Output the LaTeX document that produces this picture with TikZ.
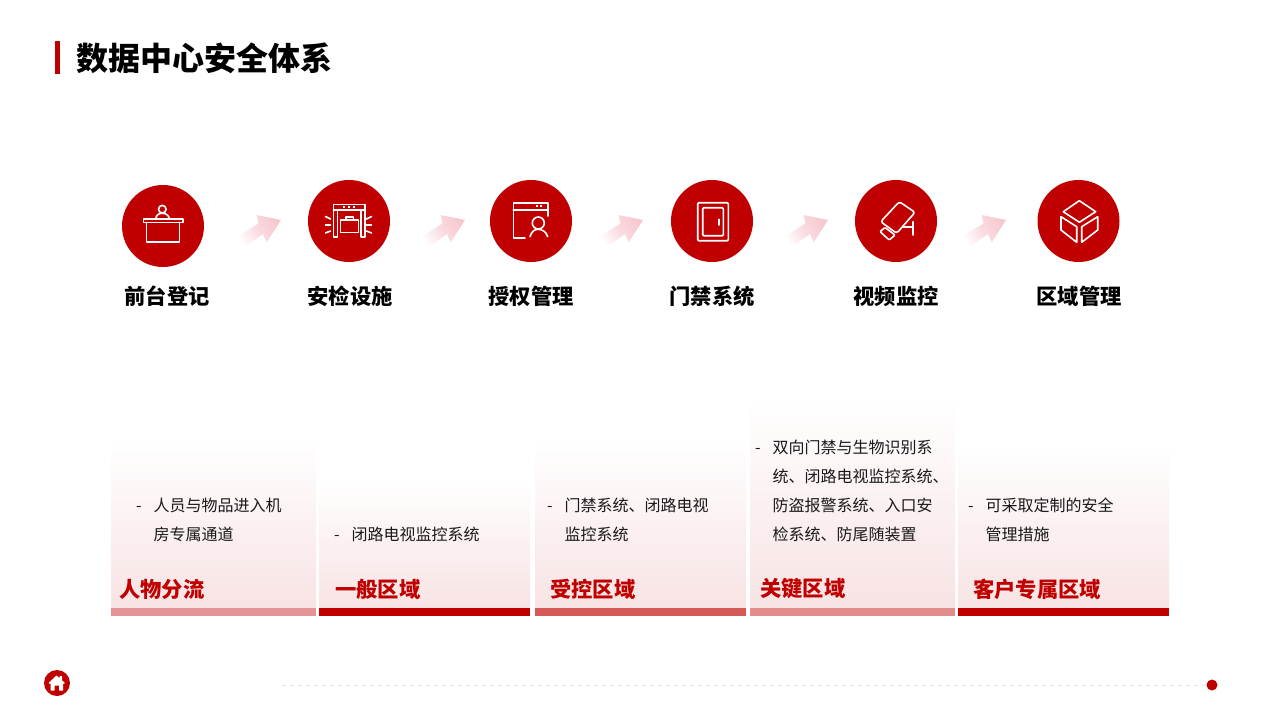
\documentclass[tikz,border=0pt]{standalone}
\usepackage{fontspec}
\setmainfont{Noto Sans CJK SC}
\definecolor{brand}{HTML}{C00000}
\definecolor{cardend}{HTML}{F8E3E4}
\definecolor{arrowend}{HTML}{F7C8D0}
\tikzset{
  icondisc/.style={circle,fill=brand,draw=none,minimum size=82pt,inner sep=0pt},
  caption/.style={font=\fontsize{21.3}{24}\selectfont\bfseries,text=black,inner sep=0pt},
  cardtitle/.style={font=\fontsize{21.3}{24}\selectfont\bfseries,text=brand,inner sep=0pt,anchor=west},
  cardbody/.style={font=\fontsize{16}{29}\selectfont,text=black!90,inner sep=0pt,anchor=north west,align=left},
  ln/.style={draw=white,line width=1.6pt,line join=round,line cap=round},
  cardfill/.style={top color=white,bottom color=cardend,middle color=white!50!cardend,draw=none},
  goarrow/.style={bottom color=white,top color=arrowend,middle color=white!35!arrowend,shading angle=-60,draw=none}
}
\newcommand{\bul}{\makebox[17.5pt][l]{-}}
\newcommand{\ind}{\hspace*{17.5pt}}
\begin{document}
\begin{tikzpicture}[x=1pt,y=-1pt]
\useasboundingbox (0,0) rectangle (1280,720);
\fill[white] (0,0) rectangle (1280,720);
% title
\fill[brand] (55,41) rectangle (60,74);
\node[anchor=west,inner sep=0pt,font=\fontsize{32}{36}\selectfont\bfseries,text=black] (title) at (76.5,58) {数据中心安全体系};
% discs
\node[icondisc] (d1) at (163,226) {};
\node[icondisc] (d2) at (349,221) {};
\node[icondisc] (d3) at (531,221) {};
\node[icondisc] (d4) at (712,221) {};
\node[icondisc] (d5) at (896,221) {};
\node[icondisc] (d6) at (1078.5,221) {};
% captions
\node[caption] (c1) at (167,296) {前台登记};
\node[caption] (c2) at (350,296) {安检设施};
\node[caption] (c3) at (531,296) {授权管理};
\node[caption] (c4) at (712,296) {门禁系统};
\node[caption] (c5) at (896,296) {视频监控};
\node[caption] (c6) at (1079,296) {区域管理};
% arrows
\foreach \dx in {0,184,362,547,725}{
  \shade[goarrow,shift={(\dx pt,0)}] (235,238) -- (258.5,223.5) -- (256.7,215) -- (281,220) -- (266.7,242.3) -- (263,234) -- (243,248) -- cycle;
}
% icon 1
\draw[ln] (143.3,219) rectangle (183,222.3);
\draw[ln] (146.3,222.3) -- (146.3,241.7) -- (179.3,241.7) -- (179.3,222.3);
\draw[ln] (155.7,219) .. controls (156,215.5) and (158.5,213.2) .. (162.3,213.2) .. controls (166,213.2) and (169,215.5) .. (169.5,219);
\draw[ln] (162.3,209.2) circle[radius=3.8];
% icon 2
\draw[ln] (333.5,237) -- (333.5,204.3) -- (364.7,204.3) -- (364.7,237) -- (360.7,237) -- (360.7,210) -- (337.5,210) -- (337.5,237) -- cycle;
\draw[ln] (333.5,210) -- (364.7,210);
\foreach \x in {344,349,354}{\fill[white] (\x-1.2,206.2) rectangle (\x+1.2,208.2);}
\draw[ln] (340.5,220) rectangle (358.5,232.3);
\draw[ln] (346,220) -- (346,217) -- (353.3,217) -- (353.3,220);
\draw[ln] (325.5,216.5) -- (330.5,219) (325.5,225) -- (330.5,225) (325.5,233) -- (330.5,231);
\draw[ln] (371.5,216.5) -- (366.5,219) (371.5,225) -- (366.5,225) (371.5,233) -- (366.5,231);
% icon 3
\draw[ln] (525,237.7) -- (513.3,237.7) -- (513.3,202.7) -- (547.7,202.7) -- (547.7,216);
\draw[ln] (513.3,210) -- (547.7,210);
\fill[white] (535.7,205) rectangle (537.9,207.2);
\fill[white] (539.7,205) rectangle (541.9,207.2);
\draw[ln] (538.3,223) circle[radius=6];
\draw[ln] (530,236.7) .. controls (531.5,231.5) and (534.5,229.3) .. (538.3,229.3) .. controls (542,229.3) and (546,231.5) .. (547.7,236.7);
% icon 4
\draw[ln,rounded corners=1pt] (697.7,202.7) rectangle (728.3,240.7);
\draw[ln,rounded corners=1pt] (702.7,207.7) rectangle (723.3,235.7);
\draw[ln] (719,219.3) -- (719,225);
% icon 5
\draw[ln,rounded corners=2.5pt] (899.3,201.7) -- (915,212.3) -- (896.7,233.3) -- (880.7,221.7) -- cycle;
\draw[ln,rounded corners=1pt] (880,231.7) -- (885,227.5) -- (895,235) -- (889.3,240) -- cycle;
\draw[ln] (902.7,226.7) -- (912.7,226.7) (912.7,221.7) -- (912.7,235);
% icon 6
\draw[ln] (1079.3,200.7) -- (1095.7,211.7) -- (1079.3,222.3) -- (1063.3,211.7) -- cycle;
\draw[ln] (1061,216.7) -- (1076.7,226.7) -- (1076.7,242.3) -- (1061,230) -- cycle;
\draw[ln] (1097.7,216.7) -- (1081.7,226.7) -- (1081.7,242.3) -- (1097.7,230) -- cycle;
% cards
\shade[cardfill] (111,440) rectangle (316,608);
\shade[cardfill] (319,478) rectangle (530,608);
\shade[cardfill] (535,440) rectangle (746,608);
\shade[cardfill] (750,398) rectangle (955,608);
\shade[cardfill] (958,445) rectangle (1169,608);
\fill[brand!42!white] (111,608) rectangle (316,616);
\fill[brand] (319,608) rectangle (530,616);
\fill[brand!65!white] (535,608) rectangle (746,616);
\fill[brand!45!white] (750,608) rectangle (955,616);
\fill[brand] (958,608) rectangle (1169,616);
% card text
\node[cardbody] (b1) at (136,498) {\bul 人员与物品进入机\\\ind 房专属通道};
\node[cardbody] (b2) at (334,527) {\bul 闭路电视监控系统};
\node[cardbody] (b3) at (547,498) {\bul 门禁系统、闭路电视\\\ind 监控系统};
\node[cardbody] (b4) at (755,440) {\bul 双向门禁与生物识别系\\\ind 统、闭路电视监控系统、\\\ind 防盗报警系统、入口安\\\ind 检系统、防尾随装置};
\node[cardbody] (b5) at (968,498) {\bul 可采取定制的安全\\\ind 管理措施};
\node[cardtitle] (t1) at (119,589) {人物分流};
\node[cardtitle] (t2) at (335,589) {一般区域};
\node[cardtitle] (t3) at (550,589) {受控区域};
\node[cardtitle] (t4) at (760,589) {关键区域};
\node[cardtitle] (t5) at (973,589) {客户专属区域};
% footer
\fill[brand] (57,683) circle[radius=13];
\fill[white] (56.5,675.5) -- (59.5,678) -- (59.5,676) -- (62,676) -- (62,680.3) -- (65,683) -- (63,684) -- (63,690.5) -- (59,690.5) -- (59,685.5) -- (54.5,685.5) -- (54.5,690.5) -- (50.5,690.5) -- (50.5,684) -- (48.5,683) -- cycle;
\draw[black!10,line width=0.8pt,dash pattern=on 4pt off 4pt] (282,685) -- (1205,685);
\fill[brand] (1212,685) circle[radius=5.5];
\end{tikzpicture}
\end{document}
